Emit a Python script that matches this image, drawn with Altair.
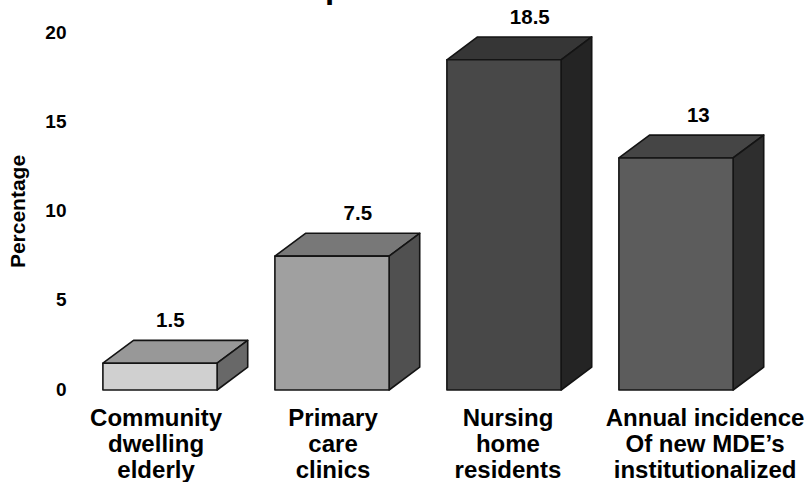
import altair as alt
import pandas as pd

# Source values
categories = ["Community\ndwelling\nelderly", "Primary\ncare\nclinics",
              "Nursing\nhome\nresidents", "Annual incidence\nOf new MDE\u2019s\ninstitutionalized"]
values = [1.5, 7.5, 18.5, 13]
value_text = ["1.5", "7.5", "18.5", "13"]
front_colors = ["#d0d0d0", "#a0a0a0", "#484848", "#5c5c5c"]
top_colors = ["#989898", "#787878", "#363636", "#454545"]
side_colors = ["#686868", "#505050", "#242424", "#2e2e2e"]

# Horizontal placement in category units (one unit between neighbouring bars)
category_label_x = [-0.023, 1.006, 2.023, 3.169]
value_label_x = [0.06, 1.15, 2.15, 3.13]

BAR_WIDTH = 0.664
DEPTH_X = 0.178
DEPTH_Y = 1.28
FONT = "Liberation Sans"
PX_PER_X = 172
PX_PER_Y = 17.85

rows = []
for i, (v, f, t, s) in enumerate(zip(values, front_colors, top_colors, side_colors)):
    x0 = i - BAR_WIDTH / 2
    x1 = i + BAR_WIDTH / 2
    faces = [
        ("top", t, [(x0, v, v), (x0 + DEPTH_X, v + DEPTH_Y, v), (x1, v + DEPTH_Y, v),
                    (x1 + DEPTH_X, v + DEPTH_Y, v + DEPTH_Y)]),
        ("side", s, [(x1, v, 0), (x1 + DEPTH_X, v + DEPTH_Y, DEPTH_Y)]),
        ("front", f, [(x0, v, 0), (x1, v, 0)]),
    ]
    for order, (name, color, pts) in enumerate(faces):
        for x, y, y2 in pts:
            rows.append({"face": f"{i}-{order}-{name}", "x": x, "y": y, "y2": y2, "color": color})
faces_df = pd.DataFrame(rows)

x_scale = alt.Scale(domain=[-0.5, 3.75], nice=False, zero=False)
y_scale = alt.Scale(domain=[0, 20], nice=False)

boxes = alt.Chart(faces_df).mark_area(
    stroke="#141414", strokeWidth=1.6, strokeJoin="round", opacity=1
).encode(
    x=alt.X("x:Q", scale=x_scale, axis=None),
    y=alt.Y("y:Q", scale=y_scale, axis=alt.Axis(
        values=[0, 5, 10, 15, 20], title="Percentage", grid=False, domain=False, ticks=False,
        labelFont=FONT, labelFontWeight="bold", labelFontSize=19, labelColor="#000000",
        labelPadding=8, labelOffset=-1, titleFont=FONT, titleFontWeight="bold", titleFontSize=21,
        titleColor="#000000", titleX=-46, titleY=178)),
    y2="y2:Q",
    fill=alt.Fill("color:N", scale=None, legend=None),
    detail="face:N",
    order=alt.Order("face:N"),
)

value_df = pd.DataFrame({"x": value_label_x, "y": values, "label": value_text})
value_labels = alt.Chart(value_df).mark_text(
    font=FONT, fontWeight="bold", fontSize=20.5, color="#000000", baseline="middle", dy=-42
).encode(x=alt.X("x:Q", scale=x_scale), y=alt.Y("y:Q", scale=y_scale), text="label:N")

cat_df = pd.DataFrame({"x": category_label_x, "y": [0] * 4, "label": categories})
cat_labels = alt.Chart(cat_df).mark_text(
    font=FONT, fontWeight="bold", fontSize=24, color="#000000", baseline="top",
    lineBreak="\n", lineHeight=26, dy=17
).encode(x=alt.X("x:Q", scale=x_scale), y=alt.Y("y:Q", scale=y_scale), text="label:N")

# Descender of the heading, which runs off the top edge of the page
heading = alt.Chart(pd.DataFrame({"label": ["p"]})).mark_text(
    font=FONT, fontWeight="bold", fontSize=33, color="#000000", align="left", baseline="alphabetic"
).encode(x=alt.value(251), y=alt.value(-35), text="label:N")

chart = alt.layer(boxes, value_labels, cat_labels, heading).properties(
    width=int(4.25 * PX_PER_X), height=int(20 * PX_PER_Y),
    padding={"left": 74, "top": 33, "right": 2, "bottom": 92},
    autosize=alt.AutoSizeParams(type="none"),
    background="#ffffff",
).configure_view(stroke=None)

chart.save("out.html", embed_options={"renderer": "svg", "actions": False})
